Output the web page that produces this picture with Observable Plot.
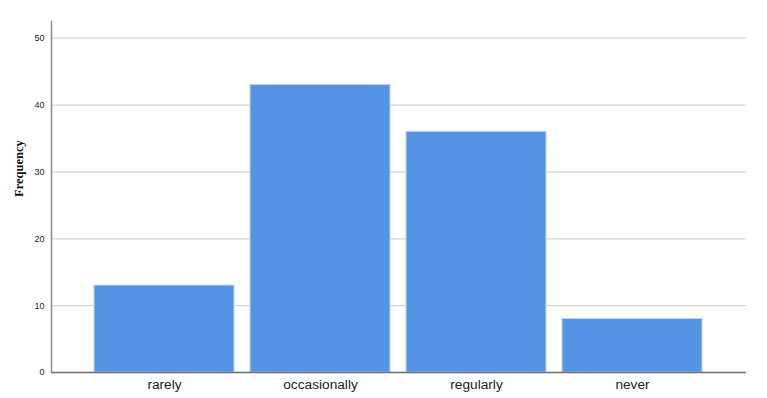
<!DOCTYPE html>
<html>
<head>
<meta charset="utf-8">
<script src="https://cdn.jsdelivr.net/npm/d3@7"></script>
<script src="https://cdn.jsdelivr.net/npm/@observablehq/plot@0.6"></script>
<style>
  html, body { margin: 0; padding: 0; background: #fff; }
</style>
</head>
<body>
<div id="chart"></div>
<script>
const categories = ["rarely", "occasionally", "regularly", "never"];
const frequencies = [13, 43, 36, 8];
const yTicks = [0, 10, 20, 30, 40, 50];
const gridTicks = [10, 20, 30, 40, 50];

const data = categories.map((c, i) => ({category: c, frequency: frequencies[i]}));

const chart = Plot.plot({
  width: 767,
  height: 398,
  marginLeft: 51,
  marginRight: 21,
  marginTop: 21,
  marginBottom: 26,
  style: {fontFamily: "'Liberation Sans', Arial, sans-serif", background: "#fff"},
  x: {domain: categories, paddingInner: 0.1, paddingOuter: 0.27, label: null},
  y: {domain: [0, 52.5], label: null},
  marks: [
    Plot.ruleY(gridTicks, {stroke: "#d4d4d4", strokeWidth: 1.3}),
    Plot.barY(data, {x: "category", y: "frequency", fill: "#5594e4", stroke: "#b9d3f3", strokeWidth: 1}),
    Plot.ruleY([0], {stroke: "#6e6e6e", strokeWidth: 1.6}),
    Plot.frame({anchor: "left", stroke: "#8c8c8c", strokeWidth: 1.5}),
    Plot.axisY(yTicks, {tickSize: 0, tickPadding: 7, fontSize: 9, fill: "#222", label: null}),
    Plot.axisX({tickSize: 0, tickPadding: 7, fontSize: 13.7, fill: "#222", label: null}),
    Plot.text(["Frequency"], {
      frameAnchor: "left", dx: -33, rotate: -90,
      fontFamily: "'Liberation Serif', 'Times New Roman', serif",
      fontWeight: "bold", fontSize: 12.5, fill: "#111"
    })
  ]
});
document.getElementById("chart").appendChild(chart);
</script>
</body>
</html>
